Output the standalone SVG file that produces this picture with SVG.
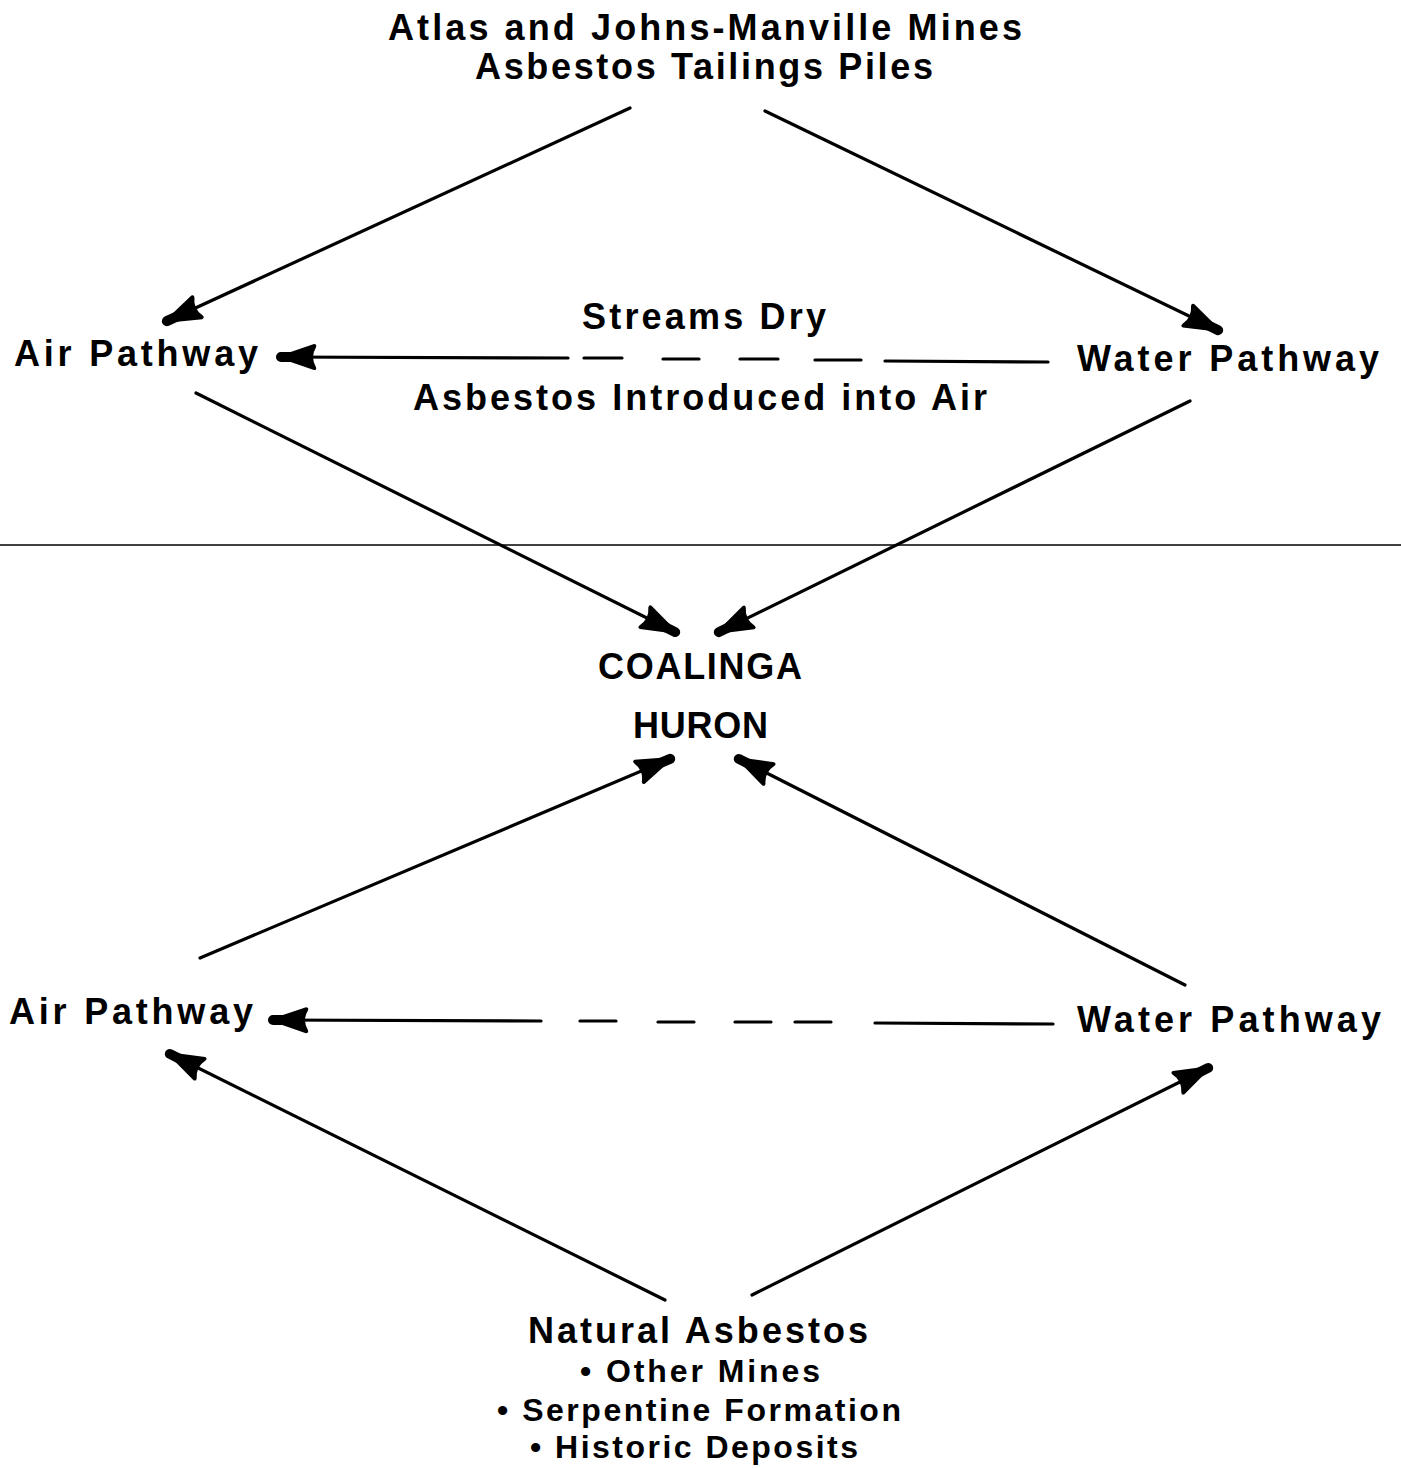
<svg xmlns="http://www.w3.org/2000/svg" width="1401" height="1468" viewBox="0 0 1401 1468">
<style>
  .t { font-family: "Liberation Sans", Arial, sans-serif; font-weight: bold; font-size: 36px; fill: #000; }
  .s { font-size: 32px; }
  .ln { stroke: #000; stroke-width: 3.2; fill: none; stroke-linecap: round; }
  .sep { stroke: #000; stroke-width: 1.5; fill: none; }
</style>
<defs>
  <marker id="ah" markerUnits="userSpaceOnUse" markerWidth="48" markerHeight="30" viewBox="0 0 48 30" refX="43" refY="15" orient="auto">
    <path d="M 46 15 L 8 2 Q 5 2 6 5 Q 9 10 9 15 Q 9 20 6 25 Q 5 28 8 28 Z" fill="#000"/>
    <rect x="14" y="10" width="32" height="10" rx="5" fill="#000"/>
  </marker>
</defs>
<rect width="1401" height="1468" fill="#fff"/>

<line class="sep" x1="0" y1="545" x2="1401" y2="545"/>

<g id="connectors">
  <line class="ln" x1="630" y1="108" x2="165" y2="322" marker-end="url(#ah)"/>
  <line class="ln" x1="765" y1="111" x2="1220" y2="331" marker-end="url(#ah)"/>
  <line class="ln" x1="196" y1="393" x2="677" y2="633" marker-end="url(#ah)"/>
  <line class="ln" x1="1190" y1="401" x2="717" y2="633" marker-end="url(#ah)"/>
  <g id="streams-dry-link">
    <line class="ln" x1="568" y1="358" x2="279" y2="357" marker-end="url(#ah)"/>
    <line class="ln" x1="584" y1="358" x2="622" y2="358"/>
    <line class="ln" x1="663" y1="359" x2="699" y2="359"/>
    <line class="ln" x1="740" y1="359" x2="778" y2="359"/>
    <line class="ln" x1="815" y1="360" x2="861" y2="360"/>
    <line class="ln" x1="885" y1="361" x2="1048" y2="362"/>
  </g>
  <line class="ln" x1="200" y1="958" x2="672" y2="758" marker-end="url(#ah)"/>
  <line class="ln" x1="1185" y1="985" x2="737" y2="758" marker-end="url(#ah)"/>
  <g id="bottom-link">
    <line class="ln" x1="541" y1="1021" x2="271" y2="1020" marker-end="url(#ah)"/>
    <line class="ln" x1="580" y1="1021" x2="616" y2="1021"/>
    <line class="ln" x1="658" y1="1022" x2="694" y2="1022"/>
    <line class="ln" x1="735" y1="1022" x2="771" y2="1022"/>
    <line class="ln" x1="795" y1="1022" x2="831" y2="1022"/>
    <line class="ln" x1="875" y1="1023" x2="1053" y2="1024"/>
  </g>
  <line class="ln" x1="665" y1="1300" x2="168" y2="1053" marker-end="url(#ah)"/>
  <line class="ln" x1="752" y1="1295" x2="1210" y2="1067" marker-end="url(#ah)"/>
</g>

<g id="mines">
  <text class="t" x="388" y="40" textLength="634" lengthAdjust="spacing">Atlas and Johns-Manville Mines</text>
  <text class="t" x="475" y="79" textLength="458" lengthAdjust="spacing">Asbestos Tailings Piles</text>
</g>
<g id="air-top">
  <text class="t" x="14" y="366" textLength="244" lengthAdjust="spacing">Air Pathway</text>
</g>
<g id="water-top">
  <text class="t" x="1077" y="371" textLength="302" lengthAdjust="spacing">Water Pathway</text>
</g>
<g id="streams-label">
  <text class="t" x="582" y="329" textLength="244" lengthAdjust="spacing">Streams Dry</text>
  <text class="t" x="413" y="410" textLength="574" lengthAdjust="spacing">Asbestos Introduced into Air</text>
</g>
<g id="coalinga">
  <text class="t" x="598" y="679" textLength="204" lengthAdjust="spacing">COALINGA</text>
  <text class="t" x="633" y="738" textLength="135" lengthAdjust="spacing">HURON</text>
</g>
<g id="air-bottom">
  <text class="t" x="9" y="1024" textLength="244" lengthAdjust="spacing">Air Pathway</text>
</g>
<g id="water-bottom">
  <text class="t" x="1077" y="1032" textLength="304" lengthAdjust="spacing">Water Pathway</text>
</g>
<g id="natural">
  <text class="t" x="528" y="1343" textLength="340" lengthAdjust="spacing">Natural Asbestos</text>
  <text class="t s" x="580" y="1382" textLength="240" lengthAdjust="spacing">• Other Mines</text>
  <text class="t s" x="497" y="1421" textLength="404" lengthAdjust="spacing">• Serpentine Formation</text>
  <text class="t s" x="530" y="1458" textLength="328" lengthAdjust="spacing">• Historic Deposits</text>
</g>
</svg>
